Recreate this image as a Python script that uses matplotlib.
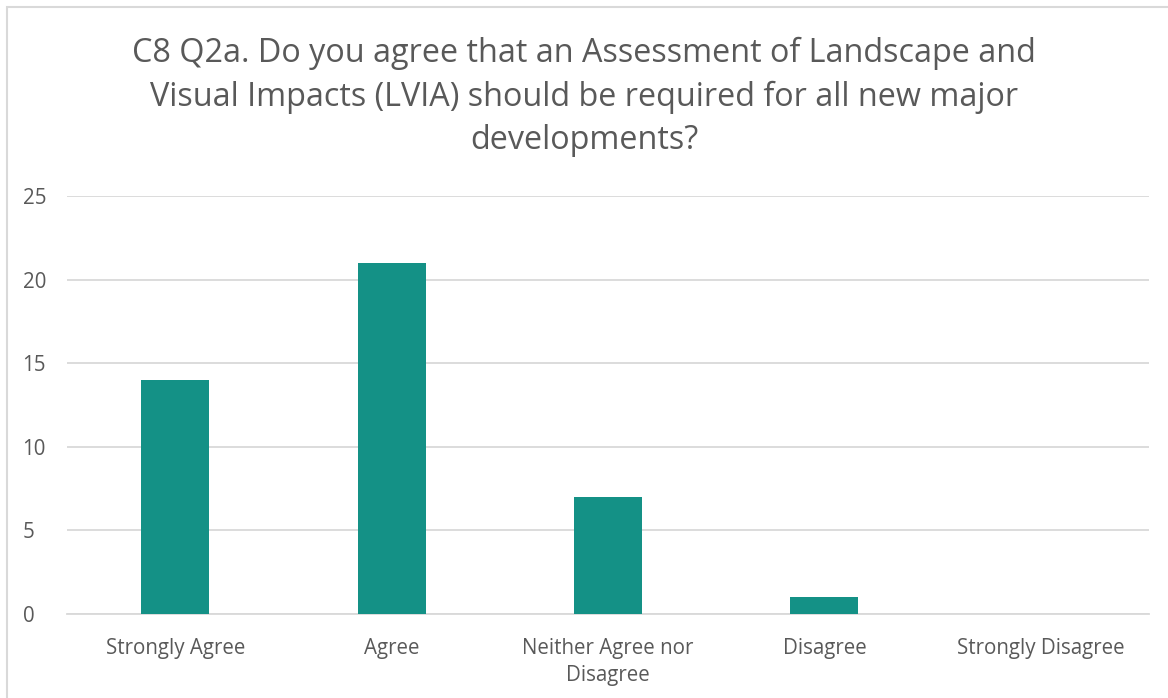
import matplotlib
matplotlib.use("Agg")
import matplotlib.pyplot as plt
from matplotlib.patches import Rectangle

categories = ["Strongly Agree", "Agree", "Neither Agree nor\nDisagree",
              "Disagree", "Strongly Disagree"]
counts = [14, 21, 7, 1, 0]
yticks = [0, 5, 10, 15, 20, 25]

TITLE = ("C8 Q2a. Do you agree that an Assessment of Landscape and\n"
         "Visual Impacts (LVIA) should be required for all new major\n"
         "developments?")

TEXT = "#595959"
BAR = "#149186"
GRID = "#d9d9d9"

plt.rcParams["font.family"] = ["Open Sans", "DejaVu Sans"]

W, H = 1168, 698
fig = plt.figure(figsize=(W / 100, H / 100), dpi=100)
fig.patch.set_facecolor("white")

# outer chart frame (right/bottom edges run past the canvas)
fig.patches.append(Rectangle((7 / W, -0.05), 1.2, 1 - 7 / H + 0.05,
                             transform=fig.transFigure, fill=False,
                             edgecolor=GRID, linewidth=1.5))

ax = fig.add_axes([67 / W, 1 - 614 / H, (1149 - 67) / W, (614 - 196) / H])
x = range(len(categories))
ax.bar(x, counts, width=0.314, color=BAR, zorder=3)

ax.set_xlim(-0.5, len(categories) - 0.5)
ax.set_ylim(0, 25)
ax.set_yticks(yticks)
ax.set_xticks(list(x))
ax.set_xticklabels(categories, fontsize=14.8, color=TEXT, linespacing=1.4)
ax.tick_params(axis="y", labelsize=14.8, labelcolor=TEXT, length=0)
ax.tick_params(axis="x", length=0, pad=17)
for lab in ax.get_yticklabels():
    lab.set_horizontalalignment("left")
ax.yaxis.set_tick_params(pad=32)

ax.grid(axis="y", color=GRID, linewidth=1.3, zorder=0)
for side in ["top", "right", "left"]:
    ax.spines[side].set_visible(False)
ax.spines["bottom"].set_color(GRID)
ax.spines["bottom"].set_linewidth(1.3)

fig.text(0.5, 1 - 97 / H, TITLE, ha="center", va="center",
         fontsize=23.3, color=TEXT, linespacing=1.4)

fig.savefig("out.png", dpi=100)
